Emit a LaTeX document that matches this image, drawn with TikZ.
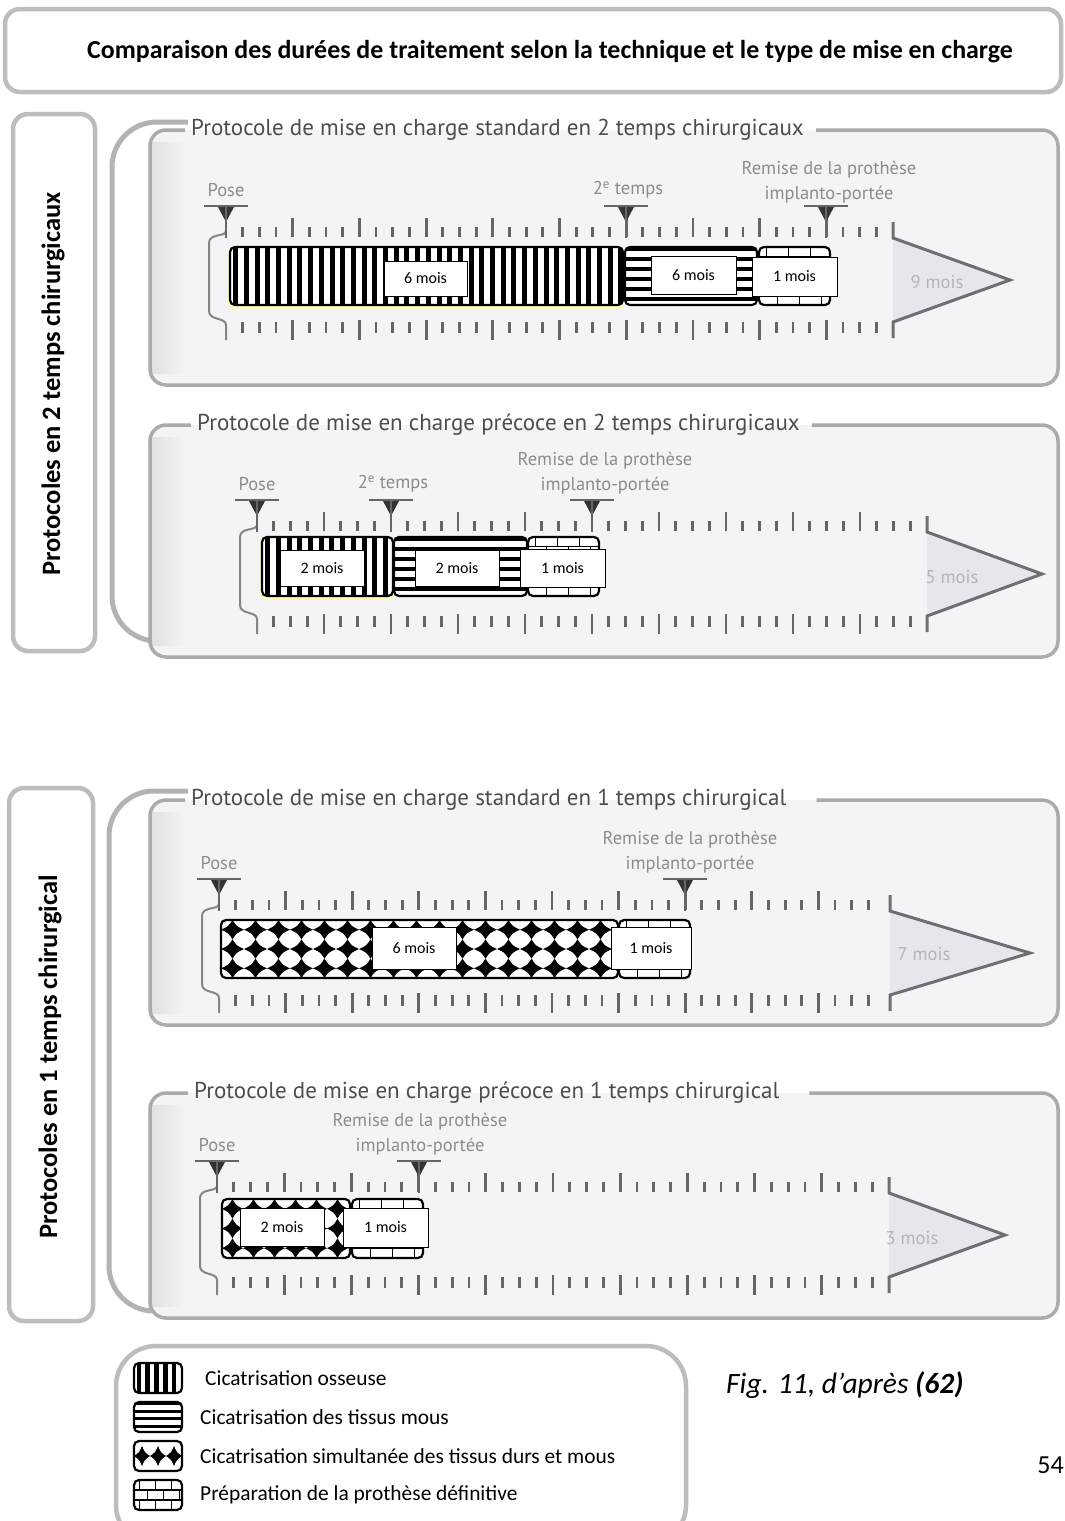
\documentclass[tikz,border=0pt]{standalone}
\usepackage{fontspec}
\setmainfont{Carlito}
\newfontfamily\bk{PT Sans}
\definecolor{gframe}{HTML}{BDBDBD}
\definecolor{bracketc}{HTML}{B3B3B3}
\definecolor{pframe}{HTML}{ABABAB}
\definecolor{pfill}{HTML}{F4F4F6}
\definecolor{pedge}{HTML}{E3DFE3}
\definecolor{tickc}{HTML}{666666}
\definecolor{ptitle}{HTML}{4D4D4D}
\definecolor{plabel}{HTML}{8C8C8C}
\definecolor{pmonth}{HTML}{B4B4BC}
\definecolor{arrf}{HTML}{E6E6EC}
\definecolor{arrl}{HTML}{6F6F73}

% timeline: #1 dy, #2 x0, #3 month spacing, #4 end x, #5 arrow tip x
\newcommand\tline[5]{%
\begin{scope}[shift={(0,#1)}]
\foreach \k in {1,...,39}{%
 \pgfmathtruncatemacro\mm{mod(\k,4)}%
 \pgfmathsetmacro\tkx{#2+\k*#3/4}%
 \ifnum\mm=0
  \draw[tk] (\tkx,218) -- (\tkx,237);
  \draw[tk] (\tkx,320) -- (\tkx,340);
 \else
  \draw[tk] (\tkx,227) -- (\tkx,237);
  \draw[tk] (\tkx,322) -- (\tkx,333);
 \fi}
\draw[brk] (#2,231) .. controls (#2,237) and (#2-17,233) .. (#2-17,243) -- (#2-17,311) .. controls (#2-17,321) and (#2,317) .. (#2,325) -- (#2,340);
\fill[arrf] (#4,238) -- (#5,280) -- (#4,322) -- cycle;
\draw[arrline] (#4,222) -- (#4,238) -- (#5,280) -- (#4,322) -- (#4,338);
\end{scope}}

% marker: #1 x, #2 dy
\newcommand\tmarker[2]{%
\begin{scope}[shift={(0,#2)}]
\draw[mbar] (#1-22,206) -- (#1+22,206);
\fill[mtri] (#1-8,207) -- (#1+8,207) -- (#1,222) -- cycle;
\draw[mbar] (#1,207) -- (#1,238);
\end{scope}}

% vertical stripes: x1,y1,x2,y2,period,black
\newcommand\bonebox[6]{%
\begin{scope}
\clip[rounded corners=5] (#1,#2) rectangle (#3,#4);
\fill[white] (#1,#2) rectangle (#3,#4);
\pgfmathtruncatemacro\nnb{(#3-#1)/#5}
\foreach \i in {0,...,\nnb}{\fill[black] (#1+#5*0.3+\i*#5,#2) rectangle ++(#6,#4-#2);}
\end{scope}
\draw[boxl] (#1,#2) rectangle (#3,#4);}

% horizontal stripes
\newcommand\softbox[6]{%
\begin{scope}
\clip[rounded corners=5] (#1,#2) rectangle (#3,#4);
\fill[white] (#1,#2) rectangle (#3,#4);
\pgfmathtruncatemacro\nns{(#4-#2)/#5}
\foreach \i in {0,...,\nns}{\fill[black] (#1,#2+\i*#5) rectangle ++(#3-#1,#6);}
\end{scope}
\draw[boxl] (#1,#2) rectangle (#3,#4);}

% bricks: x1,y1,x2,y2,rows,brick width
\newcommand\brickbox[6]{%
\begin{scope}
\clip[rounded corners=5] (#1,#2) rectangle (#3,#4);
\fill[white] (#1,#2) rectangle (#3,#4);
\pgfmathsetmacro\hhb{(#4-#2)/#5}
\pgfmathtruncatemacro\rrb{#5-1}
\foreach \j in {0,...,\rrb}{%
  \draw[brickl] (#1,#2+\j*\hhb) -- (#3,#2+\j*\hhb);
  \pgfmathsetmacro\offb{mod(\j,2)*#6/2}
  \foreach \i in {0,...,6}{\draw[brickl] (#1+\offb+\i*#6+#6/3,#2+\j*\hhb) -- ++(0,\hhb);}
}
\end{scope}
\draw[boxl] (#1,#2) rectangle (#3,#4);}

% concave black diamonds on white: x1,y1,x2,y2,dx,dy
\newcommand\diabox[6]{%
\begin{scope}
\clip[rounded corners=5] (#1,#2) rectangle (#3,#4);
\fill[white] (#1,#2) rectangle (#3,#4);
\pgfmathtruncatemacro\nxd{(#3-#1)/#5}
\pgfmathtruncatemacro\nyd{(#4-#2+0.5)/#6-1}
\pgfmathsetmacro\oyd{((#4-#2)-(\nyd+1)*#6)/2}
\pgfmathsetmacro\dha{#5/2}
\pgfmathsetmacro\dhb{#6/2}
\foreach \i in {0,...,\nxd}{\foreach \j in {0,...,\nyd}{%
  \pgfmathsetmacro\dcx{#1+(\i+0.5)*#5}
  \pgfmathsetmacro\dcy{#2+\oyd+(\j+0.5)*#6}
  \fill[black] (\dcx-\dha,\dcy) .. controls (\dcx-0.35*\dha,\dcy-0.35*\dhb) .. (\dcx,\dcy-\dhb) .. controls (\dcx+0.35*\dha,\dcy-0.35*\dhb) .. (\dcx+\dha,\dcy) .. controls (\dcx+0.35*\dha,\dcy+0.35*\dhb) .. (\dcx,\dcy+\dhb) .. controls (\dcx-0.35*\dha,\dcy+0.35*\dhb) .. cycle;}}
\end{scope}
\draw[boxl] (#1,#2) rectangle (#3,#4);}

\begin{document}
\begin{tikzpicture}[x=1pt,y=-1pt,
 tk/.style={draw=tickc,line width=2.8},
 brk/.style={draw=tickc!80,line width=2},
 arrline/.style={draw=arrl,line width=3,line join=miter},
 mbar/.style={draw=tickc,line width=2.8},
 mtri/.style={fill=black!80},
 boxl/.style={draw=black,line width=2.2,rounded corners=5},
 brickl/.style={draw=black,line width=1.3},
 lab/.style={draw=black,fill=white,line width=0.8,inner sep=0,font=\fontsize{16}{18}\selectfont},
 gbox/.style={draw=gframe,line width=4.5,rounded corners=15},
 gbrack/.style={draw=bracketc,line width=5,rounded corners=45},
 pfr/.style={draw=pframe,line width=3.5,rounded corners=16},
 ptit/.style={font=\bk\fontsize{23}{26}\selectfont,text=ptitle,inner sep=0,anchor=west},
 plab/.style={font=\bk\fontsize{18.5}{20}\selectfont,text=plabel,inner sep=0},
 pmon/.style={font=\bk\fontsize{18.5}{20}\selectfont,text=pmonth,inner sep=0},
 leg/.style={font=\fontsize{21.4}{24}\selectfont,anchor=west,inner sep=0},
 glow/.style={draw=yellow!30,line width=3,rounded corners=6}]
\fill[white] (0,0) rectangle (1065,1521);
\useasboundingbox (0,0) rectangle (1065,1521);

% title
\draw[gbox] (5,9) rectangle (1061,92);
\node[font=\bfseries\fontsize{25.9}{30}\selectfont] (title) at (550,52) {Comparaison des durées de traitement selon la technique et le type de mise en charge};

% group labels
\draw[gbox] (13,114) rectangle (95,651);
\node[rotate=90,font=\bfseries\fontsize{26.5}{30}\selectfont] (g1) at (53,384) {Protocoles en 2 temps chirurgicaux};
\draw[gbox] (9,788) rectangle (93,1321);
\node[rotate=90,font=\bfseries\fontsize{26.5}{30}\selectfont] (g2) at (50,1057) {Protocoles en 1 temps chirurgical};

% group brackets
\draw[gbrack] (188,122) -- (112,122) -- (112,641) -- (188,641);
\draw[gbrack] (188,791) -- (109,791) -- (109,1311) -- (188,1311);

% ---------- Panel 1
\fill[pfill,rounded corners=16] (150,130) rectangle (1058,385);
\shade[left color=pedge,right color=pfill] (152,142) rectangle (185,373);
\node[ptit] (p1t) at (191,130) {Protocole de mise en charge standard en 2 temps chirurgicaux};
\draw[pfr] ([xshift=12]p1t.east) -- (1058,130) -- (1058,385) -- (150,385) -- (150,130) -- ([xshift=-6]p1t.west);
\tline{0}{226}{66.7}{893}{1010}
\tmarker{226}{0}\tmarker{626}{0}\tmarker{826}{0}
\node[plab] (p1pose) at (226,190) {Pose};
\node[plab] (p1tp) at (628,190) {2\textsuperscript{e} temps};
\node[plab] (p1r1) at (829,170) {Remise de la prothèse};
\node[plab] (p1r2) at (829,195) {implanto-portée};
\node[pmon] (p1m) at (937,282) {9 mois};
\draw[glow] (229,249) rectangle (623,307);
\bonebox{230}{247}{623}{305}{10.7}{5}
\softbox{625}{247}{757}{305}{10}{4}
\brickbox{759}{247}{830}{305}{6}{22}
\node[lab,minimum width=83,minimum height=35] (p1a) at (425.5,278.5) {6 mois};
\node[lab,minimum width=85,minimum height=38] (p1b) at (693.5,275) {6 mois};
\node[lab,minimum width=85,minimum height=39] (p1c) at (794.5,276.5) {1 mois};

% ---------- Panel 2
\fill[pfill,rounded corners=16] (150,425) rectangle (1058,657);
\shade[left color=pedge,right color=pfill] (152,437) rectangle (185,645);
\node[ptit] (p2t) at (197,425) {Protocole de mise en charge précoce en 2 temps chirurgicaux};
\draw[pfr] ([xshift=12]p2t.east) -- (1058,425) -- (1058,657) -- (150,657) -- (150,425) -- ([xshift=-6]p2t.west);
\tline{294}{257}{67}{927}{1042}
\tmarker{257}{294}\tmarker{391}{294}\tmarker{592}{294}
\node[plab] (p2pose) at (257,484) {Pose};
\node[plab] (p2tp) at (393,484) {2\textsuperscript{e} temps};
\node[plab] (p2r1) at (605,461) {Remise de la prothèse};
\node[plab] (p2r2) at (605,486) {implanto-portée};
\node[pmon] (p2m) at (952,577) {5 mois};
\draw[glow] (261,539) rectangle (393,598);
\bonebox{262}{537}{393}{596}{10.7}{5}
\softbox{394}{537}{527}{596}{10}{4}
\brickbox{528}{537}{599}{596}{6}{22}
\node[lab,minimum width=84,minimum height=36] (p2a) at (322,568) {2 mois};
\node[lab,minimum width=84,minimum height=36] (p2b) at (457,568) {2 mois};
\node[lab,minimum width=85,minimum height=38] (p2c) at (562.5,568) {1 mois};

% ---------- Panel 3
\fill[pfill,rounded corners=16] (150,800) rectangle (1058,1025);
\shade[left color=pedge,right color=pfill] (152,812) rectangle (185,1013);
\node[ptit] (p3t) at (191,800) {Protocole de mise en charge standard en 1 temps chirurgical};
\draw[pfr] ([xshift=30]p3t.east) -- (1058,800) -- (1058,1025) -- (150,1025) -- (150,800) -- ([xshift=-6]p3t.west);
\tline{673}{219}{66.6}{890}{1030}
\tmarker{219}{673}\tmarker{685}{673}
\node[plab] (p3pose) at (219,863) {Pose};
\node[plab] (p3r1) at (690,840) {Remise de la prothèse};
\node[plab] (p3r2) at (690,865) {implanto-portée};
\node[pmon] (p3m) at (924,954) {7 mois};
\diabox{221}{920}{618}{978}{23}{19.33}
\brickbox{619}{920}{690}{978}{6}{22}
\node[lab,minimum width=84,minimum height=42] (p3a) at (414,948) {6 mois};
\node[lab,minimum width=80,minimum height=42] (p3b) at (651,948) {1 mois};

% ---------- Panel 4
\fill[pfill,rounded corners=16] (150,1093) rectangle (1058,1318);
\shade[left color=pedge,right color=pfill] (152,1105) rectangle (185,1306);
\node[ptit] (p4t) at (194,1093) {Protocole de mise en charge précoce en 1 temps chirurgical};
\draw[pfr] ([xshift=30]p4t.east) -- (1058,1093) -- (1058,1318) -- (150,1318) -- (150,1093) -- ([xshift=-6]p4t.west);
\tline{955}{217}{67.2}{889}{1005}
\tmarker{217}{955}\tmarker{419}{955}
\node[plab] (p4pose) at (217,1145) {Pose};
\node[plab] (p4r1) at (420,1122) {Remise de la prothèse};
\node[plab] (p4r2) at (420,1147) {implanto-portée};
\node[pmon] (p4m) at (912,1238) {3 mois};
\diabox{222}{1199}{350}{1258}{21}{19.67}
\brickbox{352}{1199}{423}{1258}{6}{22}
\node[lab,minimum width=84,minimum height=38] (p4a) at (282,1227) {2 mois};
\node[lab,minimum width=85,minimum height=39] (p4b) at (385.5,1227.5) {1 mois};

% ---------- Legend
\draw[gbox,rounded corners=40] (116,1346) rectangle (686,1545);
\bonebox{134}{1363}{182}{1393}{8.8}{4.6}
\softbox{134}{1402}{182}{1432}{7.5}{3.2}
\diabox{134}{1441}{182}{1471}{16}{20}
\brickbox{134}{1480}{182}{1510}{3}{16}
\node[leg] (l1) at (205,1378) {Cicatrisation osseuse};
\node[leg] (l2) at (200,1417) {Cicatrisation des tissus mous};
\node[leg] (l3) at (200,1456) {Cicatrisation simultanée des tissus durs et mous};
\node[leg] (l4) at (200,1495) {Préparation de la prothèse définitive};

\node[font=\itshape\fontsize{29.5}{34}\selectfont,anchor=west,inner sep=0] (fig) at (726,1385) {Fig. 11, d’après \textbf{(62)}};
\node[font=\fontsize{26}{30}\selectfont,anchor=east,inner sep=0] (pg) at (1064,1465) {54};
\end{tikzpicture}
\end{document}
